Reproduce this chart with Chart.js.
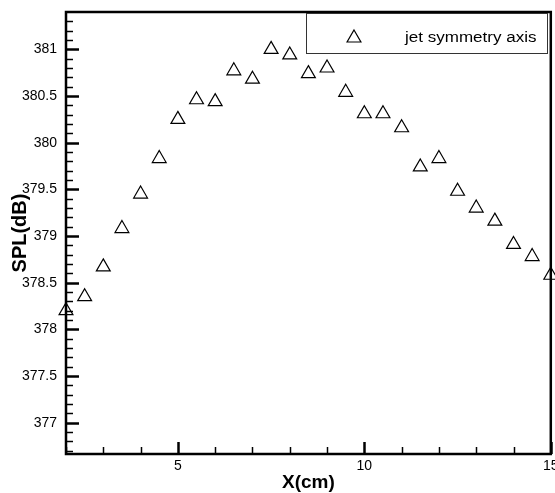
<!DOCTYPE html>
<html>
<head>
<meta charset="utf-8">
<script src="https://cdn.jsdelivr.net/npm/chart.js@4.4.0/dist/chart.umd.min.js"></script>
<style>
  html, body { margin: 0; padding: 0; background: #fff; overflow: hidden; }
  #chart-box { width: 555px; height: 493px; overflow: hidden; position: relative; }
  #spl-chart { position: absolute; left: 0; top: 0; }
</style>
</head>
<body>
<div id="chart-box"><canvas id="spl-chart" width="555" height="493"></canvas></div>
<script>
// SPL along the jet symmetry axis
const xPositions = [2, 2.5, 3, 3.5, 4, 4.5, 5, 5.5, 6, 6.5, 7, 7.5, 8, 8.5, 9,
                    9.5, 10, 10.5, 11, 11.5, 12, 12.5, 13, 13.5, 14, 14.5, 15];
const splValues = [378.20, 378.35, 378.67, 379.08, 379.45, 379.83, 380.25, 380.46, 380.44,
                   380.77, 380.68, 381.00, 380.94, 380.74, 380.80, 380.54, 380.31, 380.31,
                   380.16, 379.74, 379.83, 379.48, 379.30, 379.16, 378.91, 378.78, 378.58];
const seriesName = "jet symmetry axis";

const xLabelTicks = [5, 10, 15];
const yLabelTicks = [377, 377.5, 378, 378.5, 379, 379.5, 380, 380.5, 381];

const X_MIN = 2, X_MAX = 15;
const Y_MIN = 376.665, Y_MAX = 381.4;
const PLOT_RIGHT = 551; // the "15" label is allowed to run off the page edge

const FONT = '"Liberation Sans", Arial, Helvetica, sans-serif';
Chart.defaults.font.family = FONT;
Chart.defaults.color = "#000";

// minor ticks: every 1 cm on x, every 0.1 dB on y
const xMinor = [];
for (let i = X_MIN; i <= X_MAX; i++) xMinor.push(i);
const yMinor = [];
for (let i = 3767; i <= 3813; i++) yMinor.push(i / 10);

const isLabelled = (list, v) => list.some((t) => Math.abs(t - v) < 1e-6);

// frame, inward ticks and boxed legend
const framePlugin = {
  id: "frame",
  afterDraw(chart) {
    const { ctx, chartArea: a, scales } = chart;
    ctx.save();
    ctx.strokeStyle = "#000";

    // tick marks pointing into the plot
    yMinor.forEach((v) => {
      const y = Math.round(scales.y.getPixelForValue(v)) + 0.5;
      const major = isLabelled(yLabelTicks, v);
      ctx.lineWidth = major ? 2.5 : 1.5;
      ctx.beginPath();
      ctx.moveTo(a.left, y);
      ctx.lineTo(a.left + (major ? 13 : 7), y);
      ctx.stroke();
    });
    xMinor.forEach((v) => {
      const x = Math.round(scales.x.getPixelForValue(v)) + 0.5;
      const major = isLabelled(xLabelTicks, v);
      ctx.lineWidth = major ? 2.5 : 1.5;
      ctx.beginPath();
      ctx.moveTo(x, a.bottom);
      ctx.lineTo(x, a.bottom - (major ? 12 : 7));
      ctx.stroke();
    });

    ctx.lineWidth = 2.5;
    ctx.strokeRect(a.left, a.top, a.right - a.left, a.bottom - a.top);

    // legend box
    ctx.lineWidth = 1;
    ctx.strokeStyle = "#333";
    ctx.strokeRect(306.5, 13.5, 241, 40);
    ctx.strokeStyle = "#000";
    ctx.lineWidth = 1.2;
    Chart.helpers.drawPoint(ctx, { pointStyle: "triangle", radius: 8, rotation: 0, borderWidth: 1.2 }, 354, 38);
    ctx.fillStyle = "#000";
    ctx.font = "14px " + FONT;
    ctx.textBaseline = "alphabetic";
    const w = ctx.measureText(seriesName).width;
    ctx.translate(405, 42);
    ctx.scale(131.5 / w, 1);
    ctx.fillText(seriesName, 0, 0);
    ctx.restore();
  },
};

function noPadding(scale) {
  scale.paddingLeft = 0;
  scale.paddingRight = 0;
  scale.paddingTop = 0;
  scale.paddingBottom = 0;
}

function makeChart(canvas) {
  return new Chart(canvas, {
    type: "scatter",
    data: {
      datasets: [
        {
          label: seriesName,
          data: xPositions.map((x, i) => ({ x: x, y: splValues[i] })),
          pointStyle: "triangle",
          pointRadius: 8,
          pointHoverRadius: 8,
          borderColor: "#000",
          backgroundColor: "rgba(0,0,0,0)",
          borderWidth: 1.2,
          clip: false,
        },
      ],
    },
    options: {
      responsive: false,
      maintainAspectRatio: false,
      animation: false,
      events: [],
      layout: { padding: { top: 12, right: 0, left: 0, bottom: 0 } },
      plugins: {
        legend: { display: false },
        tooltip: { enabled: false },
      },
      scales: {
        x: {
          type: "linear",
          min: X_MIN,
          max: X_MAX,
          afterBuildTicks: (scale) => {
            scale.ticks = xMinor.map((v) => ({ value: v }));
          },
          afterFit: (scale) => {
            scale.height = 39;
            noPadding(scale);
          },
          grid: { display: false, drawTicks: false },
          border: { display: false },
          ticks: {
            autoSkip: false,
            maxRotation: 0,
            padding: 4,
            font: { size: 14 },
            callback: (v) => (isLabelled(xLabelTicks, v) ? String(v) : ""),
          },
          title: {
            display: true,
            text: "X(cm)",
            font: { size: 19, weight: "bold", lineHeight: 1.05 },
            padding: { top: 0, bottom: 0 },
          },
        },
        y: {
          type: "linear",
          min: Y_MIN,
          max: Y_MAX,
          afterBuildTicks: (scale) => {
            scale.ticks = yMinor.map((v) => ({ value: v }));
          },
          afterFit: (scale) => {
            scale.width = 66;
            noPadding(scale);
          },
          grid: { display: false, drawTicks: false },
          border: { display: false },
          ticks: {
            autoSkip: false,
            padding: 9,
            font: { size: 14 },
            callback: (v) => (isLabelled(yLabelTicks, v) ? String(Number(v.toFixed(1))) : ""),
          },
          title: {
            display: true,
            text: "SPL(dB)",
            font: { size: 20, weight: "bold", lineHeight: 1.2 },
            padding: { top: 8, bottom: 0 },
          },
        },
      },
    },
    plugins: [framePlugin],
  });
}

const canvas = document.getElementById("spl-chart");
let chart = makeChart(canvas);

// Chart.js reserves room for the last x label; widen the canvas so the plot
// still reaches PLOT_RIGHT and let the box clip the overhang.
const extra = PLOT_RIGHT - chart.chartArea.right;
if (Math.abs(extra) > 0.5) {
  chart.destroy();
  const w = Math.round(555 + extra);
  canvas.width = w;
  canvas.height = 493;
  canvas.style.width = w + "px";
  canvas.style.height = "493px";
  chart = makeChart(canvas);
}
</script>
</body>
</html>
